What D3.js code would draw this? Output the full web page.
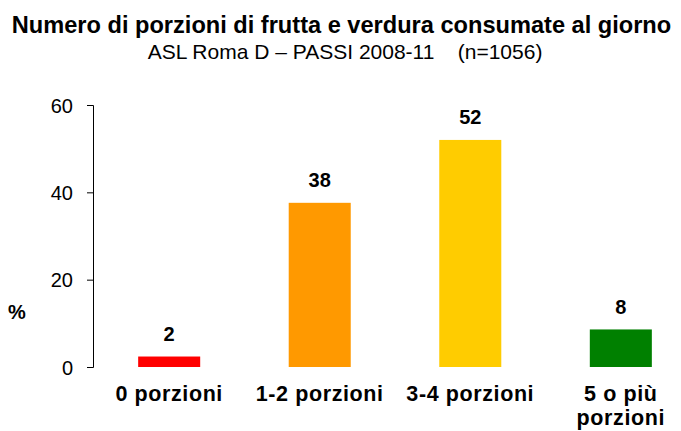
<!DOCTYPE html>
<html>
<head>
<meta charset="utf-8">
<script src="https://cdn.jsdelivr.net/npm/d3@7"></script>
<style>
  body { margin: 0; background: #fff; }
  text { font-family: "Liberation Sans", Arial, sans-serif; }
</style>
</head>
<body>
<svg id="chart" width="681" height="431"></svg>
<script>
// data
var categories = ["0 porzioni", "1-2 porzioni", "3-4 porzioni", "5 o più porzioni"];
var values = [2.4, 37.6, 52.0, 8.6];
var valueLabels = ["2", "38", "52", "8"];
var barColors = ["#ff0000", "#ff9900", "#ffcc00", "#008000"];
var yTicks = [0, 20, 40, 60];

var svg = d3.select("#chart");

svg.append("text")
    .attr("x", 341.5).attr("y", 33)
    .attr("text-anchor", "middle")
    .attr("font-size", 23.6).attr("font-weight", "bold")
    .text("Numero di porzioni di frutta e verdura consumate al giorno");

svg.append("text")
    .attr("x", 345).attr("y", 59)
    .attr("text-anchor", "middle")
    .attr("font-size", 21)
    .attr("xml:space", "preserve")
    .text("ASL Roma D \u2013 PASSI 2008-11    (n=1056)");

var x = d3.scaleBand()
    .domain(categories)
    .range([93, 697])
    .paddingInner(0.588)
    .paddingOuter(0.3);

var y = d3.scaleLinear()
    .domain([0, 60])
    .range([367, 105]);

var yAxis = svg.append("g")
    .attr("transform", "translate(93,0)")
    .call(d3.axisLeft(y).tickValues(yTicks).tickSize(6).tickPadding(14));
yAxis.selectAll("text").attr("font-size", 20).attr("fill", "#000")
    .attr("dy", "0.35em")
    .style("font-family", "'Liberation Sans', Arial, sans-serif");
yAxis.selectAll("line, path").attr("stroke", "#000");
yAxis.select(".domain").attr("d", "M-6,105.5H0.5V367.5H-6");

svg.append("text")
    .attr("x", 17).attr("y", 319)
    .attr("text-anchor", "middle")
    .attr("font-size", 20).attr("font-weight", "bold")
    .text("%");

svg.selectAll(".bar")
    .data(values)
    .enter().append("rect")
    .attr("class", "bar")
    .attr("x", function(d, i) { return x(categories[i]); })
    .attr("width", x.bandwidth())
    .attr("y", function(d) { return y(d); })
    .attr("height", function(d) { return y(0) - y(d); })
    .attr("fill", function(d, i) { return barColors[i]; });

svg.selectAll(".vlabel")
    .data(values)
    .enter().append("text")
    .attr("class", "vlabel")
    .attr("x", function(d, i) { return x(categories[i]) + x.bandwidth() / 2; })
    .attr("y", function(d) { return y(d) - 15.5; })
    .attr("text-anchor", "middle")
    .attr("font-size", 20).attr("font-weight", "bold")
    .text(function(d, i) { return valueLabels[i]; });

// category labels, wrapped like the original
var catLines = [["0 porzioni"], ["1-2 porzioni"], ["3-4 porzioni"], ["5 o più", "porzioni"]];
svg.selectAll(".clabel")
    .data(categories)
    .enter().append("text")
    .attr("class", "clabel")
    .attr("x", function(d) { return x(d) + x.bandwidth() / 2; })
    .attr("y", 401)
    .attr("text-anchor", "middle")
    .attr("font-size", 21.5).attr("font-weight", "bold")
    .attr("letter-spacing", 0.6)
    .each(function(d, i) {
      d3.select(this).selectAll("tspan")
        .data(catLines[i])
        .enter().append("tspan")
        .attr("x", x(d) + x.bandwidth() / 2)
        .attr("dy", function(t, j) { return j === 0 ? 0 : 24; })
        .text(function(t) { return t; });
    });
</script>
</body>
</html>
